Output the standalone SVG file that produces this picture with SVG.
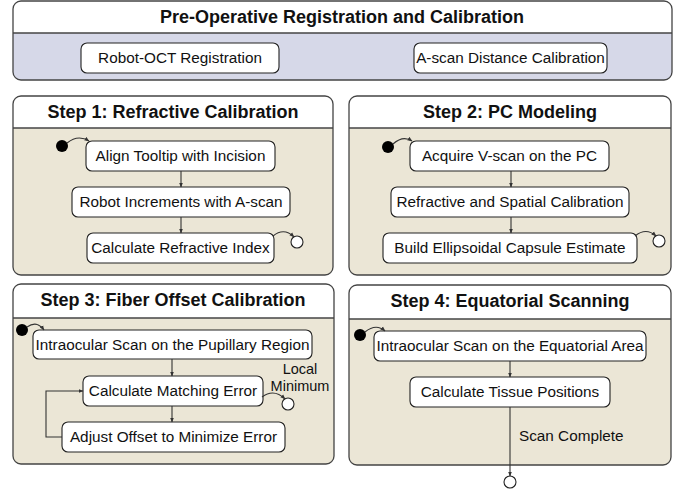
<svg xmlns="http://www.w3.org/2000/svg" width="684" height="493" viewBox="0 0 684 493">
<defs>
<marker id="arr" viewBox="0 0 10 10" refX="9" refY="5" markerWidth="5" markerHeight="5" orient="auto-start-reverse" markerUnits="userSpaceOnUse">
<path d="M0,1 L10,5 L0,9 Z" fill="#333"/>
</marker>
</defs>
<style>
.hdr{fill:#ffffff;}
.beige{fill:#ebe6d6;}
.lav{fill:#d6d8e8;}
.outline{fill:none;stroke:#444;stroke-width:1.3;}
.node{fill:#ffffff;stroke:#222;stroke-width:1.1;}
.title{font-family:"Liberation Sans",Arial,sans-serif;font-weight:bold;font-size:18px;fill:#111;text-anchor:middle;}
.lbl{font-family:"Liberation Sans",Arial,sans-serif;font-size:15.3px;fill:#111;text-anchor:middle;}
.small{font-family:"Liberation Sans",Arial,sans-serif;font-size:14.5px;fill:#111;text-anchor:middle;}
.edge{fill:none;stroke:#333;stroke-width:1.1;}
.start{fill:#000;}
.end{fill:#fff;stroke:#222;stroke-width:1.1;}
</style>

<!-- Pre-operative container -->
<g id="preop">
<rect x="13" y="1" width="659" height="79" rx="8" class="lav"/>
<path d="M13,33 V9 a8,8 0 0 1 8,-8 H664 a8,8 0 0 1 8,8 V33 Z" class="hdr"/>
<rect x="13" y="1" width="659" height="79" rx="8" class="outline"/>
<line x1="13" y1="33" x2="672" y2="33" class="outline"/>
<text x="342" y="23" class="title">Pre-Operative Registration and Calibration</text>
</g>
<g id="robot-oct">
<rect x="81" y="43" width="198" height="30" rx="6" class="node"/>
<text x="180" y="63" class="lbl">Robot-OCT Registration</text>
</g>
<g id="ascan-cal">
<rect x="414" y="43" width="193" height="30" rx="6" class="node"/>
<text x="510.5" y="63" class="lbl">A-scan Distance Calibration</text>
</g>

<!-- Step 1 -->
<g id="step1">
<rect x="13" y="96" width="320" height="179" rx="8" class="beige"/>
<path d="M13,128 V104 a8,8 0 0 1 8,-8 H325 a8,8 0 0 1 8,8 V128 Z" class="hdr"/>
<rect x="13" y="96" width="320" height="179" rx="8" class="outline"/>
<line x1="13" y1="128" x2="333" y2="128" class="outline"/>
<text x="173" y="118" class="title">Step 1: Refractive Calibration</text>
</g>
<g id="s1-start"><circle cx="62" cy="146" r="6" class="start"/></g>
<g id="s1-align">
<rect x="86" y="141" width="189" height="30" rx="6" class="node"/>
<text x="180.5" y="161" class="lbl">Align Tooltip with Incision</text>
</g>
<g id="s1-robot">
<rect x="72" y="187" width="218" height="30" rx="6" class="node"/>
<text x="181" y="207" class="lbl">Robot Increments with A-scan</text>
</g>
<g id="s1-calc">
<rect x="87" y="233" width="187" height="30" rx="6" class="node"/>
<text x="180.5" y="253" class="lbl">Calculate Refractive Index</text>
</g>
<g id="s1-end"><circle cx="297" cy="242" r="6" class="end"/></g>

<!-- Step 2 -->
<g id="step2">
<rect x="349" y="96" width="322" height="179" rx="8" class="beige"/>
<path d="M349,128 V104 a8,8 0 0 1 8,-8 H663 a8,8 0 0 1 8,8 V128 Z" class="hdr"/>
<rect x="349" y="96" width="322" height="179" rx="8" class="outline"/>
<line x1="349" y1="128" x2="671" y2="128" class="outline"/>
<text x="510" y="118" class="title">Step 2: PC Modeling</text>
</g>
<g id="s2-start"><circle cx="388" cy="147" r="6" class="start"/></g>
<g id="s2-acquire">
<rect x="410" y="141" width="199" height="30" rx="6" class="node"/>
<text x="509.5" y="161" class="lbl">Acquire V-scan on the PC</text>
</g>
<g id="s2-refr">
<rect x="391" y="187" width="238" height="30" rx="6" class="node"/>
<text x="510" y="207" class="lbl">Refractive and Spatial Calibration</text>
</g>
<g id="s2-build">
<rect x="383" y="233" width="254" height="30" rx="6" class="node"/>
<text x="510" y="253" class="lbl">Build Ellipsoidal Capsule Estimate</text>
</g>
<g id="s2-end"><circle cx="659" cy="241" r="6" class="end"/></g>

<!-- Step 3 -->
<g id="step3">
<rect x="13" y="284" width="321" height="180" rx="8" class="beige"/>
<path d="M13,318 V292 a8,8 0 0 1 8,-8 H326 a8,8 0 0 1 8,8 V318 Z" class="hdr"/>
<rect x="13" y="284" width="321" height="180" rx="8" class="outline"/>
<line x1="13" y1="318" x2="334" y2="318" class="outline"/>
<text x="173" y="306" class="title">Step 3: Fiber Offset Calibration</text>
</g>
<g id="s3-start"><circle cx="22" cy="330" r="6" class="start"/></g>
<g id="s3-scan">
<rect x="33" y="330" width="279" height="29" rx="6" class="node"/>
<text x="172.5" y="350" class="lbl">Intraocular Scan on the Pupillary Region</text>
</g>
<g id="s3-match">
<rect x="83" y="376" width="180" height="30" rx="6" class="node"/>
<text x="173" y="396" class="lbl">Calculate Matching Error</text>
</g>
<g id="s3-adjust">
<rect x="62" y="422" width="223" height="30" rx="6" class="node"/>
<text x="173.5" y="442" class="lbl">Adjust Offset to Minimize Error</text>
</g>
<g id="s3-end"><circle cx="288" cy="404" r="6" class="end"/></g>

<!-- Step 4 -->
<g id="step4">
<rect x="349" y="285" width="322" height="180" rx="8" class="beige"/>
<path d="M349,319 V293 a8,8 0 0 1 8,-8 H663 a8,8 0 0 1 8,8 V319 Z" class="hdr"/>
<rect x="349" y="285" width="322" height="180" rx="8" class="outline"/>
<line x1="349" y1="319" x2="671" y2="319" class="outline"/>
<text x="510" y="307" class="title">Step 4: Equatorial Scanning</text>
</g>
<g id="s4-start"><circle cx="360" cy="335" r="6" class="start"/></g>
<g id="s4-scan">
<rect x="374" y="331" width="272" height="30" rx="6" class="node"/>
<text x="510" y="351" class="lbl">Intraocular Scan on the Equatorial Area</text>
</g>
<g id="s4-tissue">
<rect x="410" y="377" width="200" height="30" rx="6" class="node"/>
<text x="510" y="397" class="lbl">Calculate Tissue Positions</text>
</g>
<g id="s4-end"><circle cx="510" cy="482" r="6" class="end"/></g>

<!-- Connectors -->
<g id="connectors">
<path d="M67,143 Q78,134 89,141" class="edge" marker-end="url(#arr)"/>
<line x1="181" y1="171" x2="181" y2="187" class="edge" marker-end="url(#arr)"/>
<line x1="181" y1="217" x2="181" y2="233" class="edge" marker-end="url(#arr)"/>
<path d="M273,236 Q284,227 294,237" class="edge" marker-end="url(#arr)"/>

<path d="M393,144 Q403,135 412,141" class="edge" marker-end="url(#arr)"/>
<line x1="511" y1="171" x2="511" y2="187" class="edge" marker-end="url(#arr)"/>
<line x1="511" y1="217" x2="511" y2="233" class="edge" marker-end="url(#arr)"/>
<path d="M635,236 Q646,227 656,236" class="edge" marker-end="url(#arr)"/>

<path d="M27,327 Q37,320 44,330" class="edge" marker-end="url(#arr)"/>
<line x1="172" y1="359" x2="172" y2="376" class="edge" marker-end="url(#arr)"/>
<line x1="172" y1="406" x2="172" y2="422" class="edge" marker-end="url(#arr)"/>
<path d="M262,397 Q274,388 285,399" class="edge" marker-end="url(#arr)"/>
<polyline points="62,437 46,437 46,391 83,391" class="edge" marker-end="url(#arr)"/>
<text x="300" y="374" class="small">Local</text>
<text x="300" y="391" class="small">Minimum</text>

<path d="M365,332 Q376,323 385,331" class="edge" marker-end="url(#arr)"/>
<line x1="510" y1="361" x2="510" y2="377" class="edge" marker-end="url(#arr)"/>
<line x1="510" y1="407" x2="510" y2="476" class="edge" marker-end="url(#arr)"/>
<text x="519" y="441" class="lbl" style="text-anchor:start">Scan Complete</text>
</g>
</svg>
